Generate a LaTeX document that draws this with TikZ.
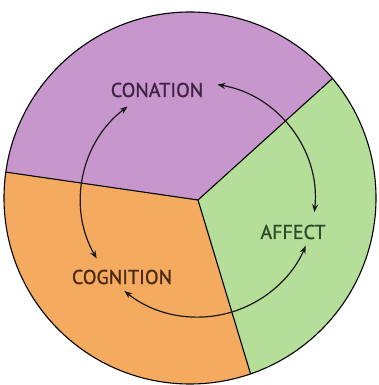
\documentclass[tikz,border=0pt]{standalone}
\usepackage{fontspec}
\setmainfont{PT Sans}
\newfontfamily\lblfont[FakeBold=1.2]{PT Sans}
\usetikzlibrary{arrows.meta,calc}
\definecolor{conpurple}{HTML}{C796CC}
\definecolor{affgreen}{HTML}{B5DE98}
\definecolor{cogorange}{HTML}{F5AB5F}
\definecolor{context}{HTML}{3F2344}
\definecolor{afftext}{HTML}{2F4A28}
\definecolor{cogtext}{HTML}{4A2A12}
\tikzset{
  sector/.style={draw=black, line width=1.1pt, line join=round},
  label/.style={font=\lblfont\fontsize{20}{22}\selectfont, inner sep=0pt},
  cycarrow/.style={draw=black!90, line width=1.2pt, {Stealth[length=8pt,width=6pt]}-{Stealth[length=8pt,width=6pt]}}
}
\begin{document}
\begin{tikzpicture}[x=1pt,y=1pt]
\useasboundingbox (0,0) rectangle (378,385);
\fill[white] (0,0) rectangle (378,385);
\coordinate (C) at (190,187);
\coordinate (H) at (198,185);
\def\R{186}
% sectors
\fill[conpurple] (H) -- ($(C)+(40:\R)$) arc[start angle=40,end angle=172,radius=\R] -- cycle;
\fill[cogorange] (H) -- ($(C)+(172:\R)$) arc[start angle=172,end angle=289,radius=\R] -- cycle;
\fill[affgreen] (H) -- ($(C)+(-71:\R)$) arc[start angle=-71,end angle=40,radius=\R] -- cycle;
\draw[sector] (H) -- ($(C)+(40:\R)$);
\draw[sector] (H) -- ($(C)+(172:\R)$);
\draw[sector] (H) -- ($(C)+(-71:\R)$);
\draw[sector] (C) circle[radius=\R];
% labels
\node[label, text=context] (con) at (157,295) {CONATION};
\node[label, text=afftext] (aff) at (293,153) {AFFECT};
\node[label, text=cogtext] (cog) at (122,108) {COGNITION};
% cycle arrows
\def\r{117}
\coordinate (a1) at ($(H)+(80.5:\r)$);
\coordinate (a2) at ($(H)+(127:\r)$);
\coordinate (a3) at ($(H)+(231:\r)$);
\draw[cycarrow] (a1) arc[start angle=80.5,end angle=-6,radius=\r];
\draw[cycarrow] (a2) arc[start angle=127,end angle=210,radius=\r];
\draw[cycarrow] (a3) arc[start angle=231,end angle=337,radius=\r];
\end{tikzpicture}
\end{document}
